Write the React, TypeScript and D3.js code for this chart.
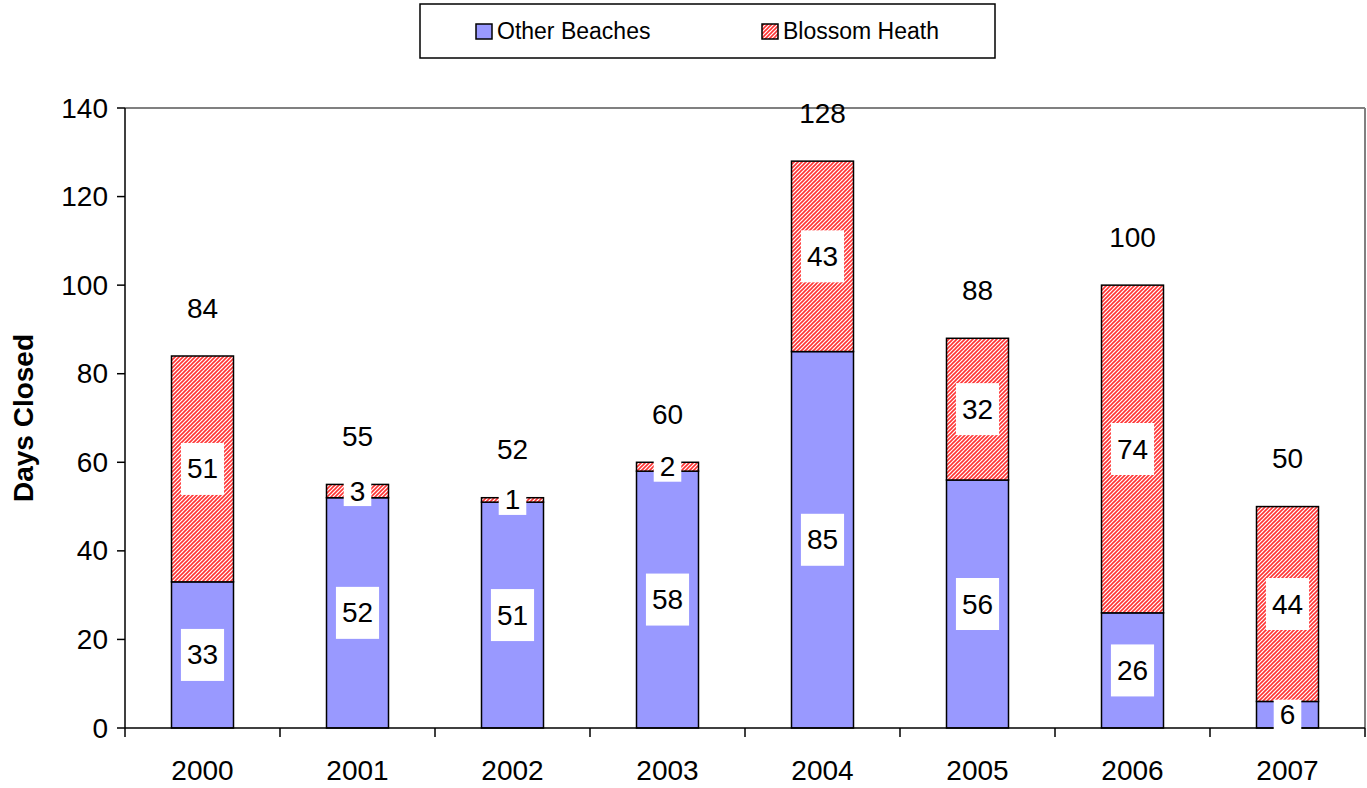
import React from "react";
import * as d3 from "d3";

const years = ["2000", "2001", "2002", "2003", "2004", "2005", "2006", "2007"];
const otherBeaches = [33, 52, 51, 58, 85, 56, 26, 6];
const blossomHeath = [51, 3, 1, 2, 43, 32, 74, 44];
const totals = [84, 55, 52, 60, 128, 88, 100, 50];
const yTicks = [0, 20, 40, 60, 80, 100, 120, 140];
const seriesNames = ["Other Beaches", "Blossom Heath"];

const W = 1367;
const H = 788;
const margin = { left: 125, right: 2, top: 108, bottom: 60 };
const FONT = "Liberation Sans, Arial, sans-serif";
const BLUE = "#9999ff";
const FS = 28;

function Label({ x, y, text, box }: { x: number; y: number; text: string; box: boolean }) {
  const w = text.length * FS * 0.556 + 12;
  const h = text.length > 1 ? 52 : 30;
  return (
    <g>
      {box && <rect x={x - w / 2} y={y - h / 2} width={w} height={h} fill="#fff" />}
      <text x={x} y={y} fontSize={FS} fontFamily={FONT} textAnchor="middle" dominantBaseline="central" fill="#000">
        {text}
      </text>
    </g>
  );
}

export default function App() {
  const x = d3.scaleBand().domain(years).range([margin.left, W - margin.right]).paddingInner(0).paddingOuter(0);
  const y = d3.scaleLinear().domain([0, 140]).range([H - margin.bottom, margin.top]);
  const bw = x.bandwidth() * 0.4;
  const x0 = margin.left;
  const x1 = W - margin.right;
  const yb = y(0);
  const yt = y(140);

  return (
    <svg width={W} height={H} style={{ position: "absolute", left: 0, top: 0, background: "#fff" }}>
      <defs>
        <pattern id="hatch" patternUnits="userSpaceOnUse" width="4" height="4">
          <rect width="4" height="4" fill="#fff" />
          <path d="M-1,1 l2,-2 M0,4 l4,-4 M3,5 l2,-2" stroke="#ff3333" strokeWidth="1.6" />
        </pattern>
      </defs>
      {/* plot border top/right */}
      <line x1={x0} x2={x1} y1={yt} y2={yt} stroke="#808080" strokeWidth={2} />
      <line x1={x1} x2={x1} y1={yt} y2={yb} stroke="#808080" strokeWidth={2} />

      {/* bars */}
      {years.map((yr, i) => {
        const cx = (x(yr) as number) + x.bandwidth() / 2;
        const bx = cx - bw / 2;
        const ob = otherBeaches[i];
        const bh = blossomHeath[i];
        return (
          <g key={yr}>
            <rect x={bx} y={y(ob)} width={bw} height={yb - y(ob)} fill={BLUE} stroke="#000" strokeWidth={1.5} />
            <rect x={bx} y={y(ob + bh)} width={bw} height={y(ob) - y(ob + bh)} fill="url(#hatch)" stroke="#000" strokeWidth={1.5} />
          </g>
        );
      })}

      {/* axes */}
      <line x1={x0} x2={x1} y1={yb} y2={yb} stroke="#000" strokeWidth={1.5} />
      <line x1={x0} x2={x0} y1={yt} y2={yb} stroke="#000" strokeWidth={1.5} />
      {yTicks.map((t) => (
        <g key={t}>
          <line x1={x0 - 8} x2={x0} y1={y(t)} y2={y(t)} stroke="#000" strokeWidth={1.5} />
          <text x={x0 - 17} y={y(t)} fontSize={FS} fontFamily={FONT} textAnchor="end" dominantBaseline="central">
            {t}
          </text>
        </g>
      ))}
      {years.map((yr) => (
        <line key={"t" + yr} x1={(x(yr) as number)} x2={(x(yr) as number)} y1={yb} y2={yb + 9} stroke="#000" strokeWidth={1.5} />
      ))}
      <line x1={x1} x2={x1} y1={yb} y2={yb + 9} stroke="#000" strokeWidth={1.5} />
      {years.map((yr) => (
        <text key={"l" + yr} x={(x(yr) as number) + x.bandwidth() / 2} y={770} fontSize={FS} fontFamily={FONT} textAnchor="middle" dominantBaseline="central">
          {yr}
        </text>
      ))}

      {/* data labels */}
      {years.map((yr, i) => {
        const cx = (x(yr) as number) + x.bandwidth() / 2;
        const ob = otherBeaches[i];
        const bh = blossomHeath[i];
        return (
          <g key={"d" + yr}>
            <Label x={cx} y={(y(0) + y(ob)) / 2} text={String(ob)} box />
            <Label x={cx} y={(y(ob) + y(ob + bh)) / 2} text={String(bh)} box />
            <Label x={cx} y={y(totals[i]) - 48} text={String(totals[i])} box={false} />
          </g>
        );
      })}

      {/* y axis title */}
      <text transform={`translate(23,${(yt + yb) / 2}) rotate(-90)`} fontSize={28} fontWeight="bold" fontFamily={FONT} textAnchor="middle" dominantBaseline="central">
        Days Closed
      </text>

      {/* legend */}
      <rect x={420} y={4} width={575} height={54} fill="#fff" stroke="#000" strokeWidth={1.5} />
      <rect x={476} y={24} width={16} height={15} fill={BLUE} stroke="#000" strokeWidth={1.5} />
      <text x={497} y={31} fontSize={23} fontFamily={FONT} dominantBaseline="central">
        {seriesNames[0]}
      </text>
      <rect x={762} y={24} width={16} height={15} fill="url(#hatch)" stroke="#000" strokeWidth={1.5} />
      <text x={783} y={31} fontSize={23} fontFamily={FONT} dominantBaseline="central">
        {seriesNames[1]}
      </text>
    </svg>
  );
}
